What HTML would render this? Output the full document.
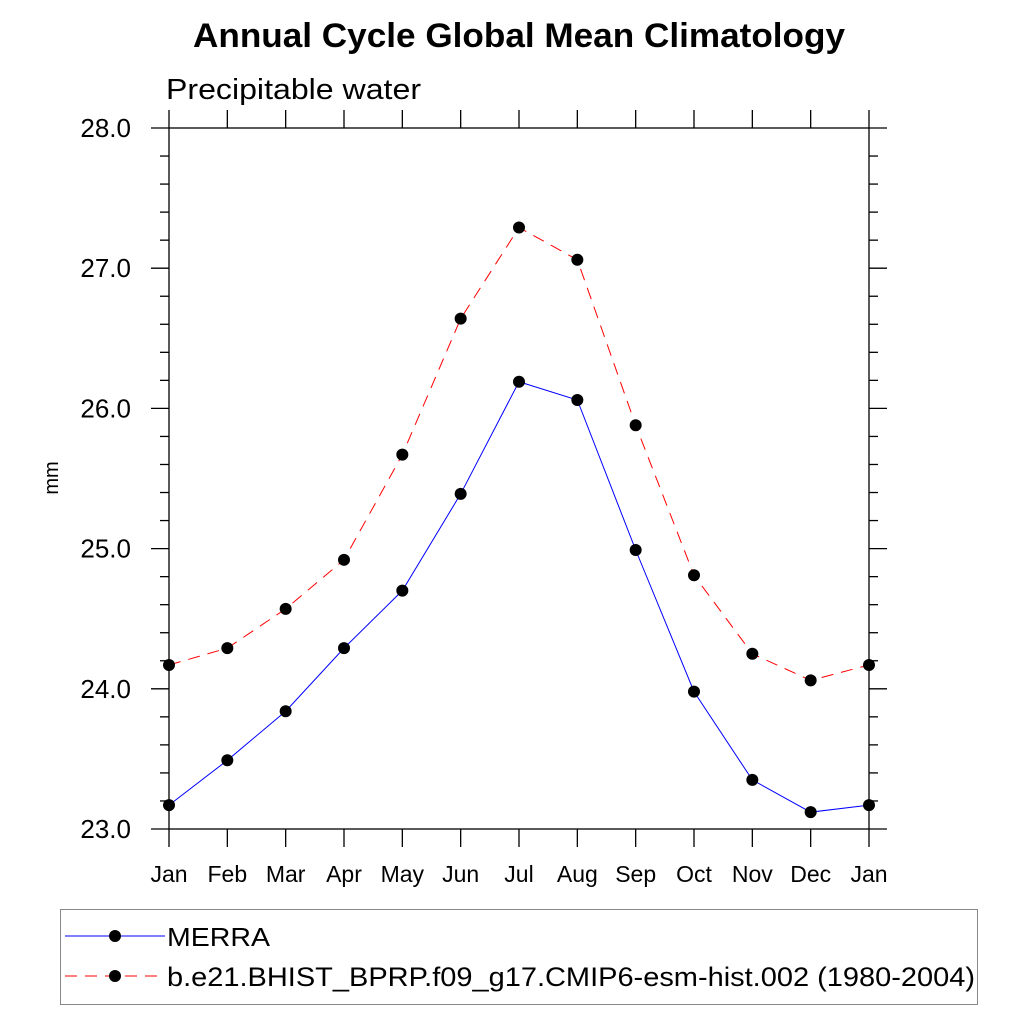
<!DOCTYPE html>
<html><head><meta charset="utf-8"><style>body{margin:0;background:#fff}svg{display:block}</style></head>
<body>
<svg id="chart" width="1024" height="1024" viewBox="0 0 1024 1024" xmlns="http://www.w3.org/2000/svg" font-family="Liberation Sans, sans-serif">
<rect width="1024" height="1024" fill="#fff"/>
<text x="193" y="47" textLength="652" lengthAdjust="spacingAndGlyphs" font-size="34" font-weight="bold">Annual Cycle Global Mean Climatology</text>
<text x="166" y="99" textLength="255" lengthAdjust="spacingAndGlyphs" font-size="29">Precipitable water</text>
<text transform="translate(58,478) rotate(-90)" text-anchor="middle" font-size="20">mm</text>
<g id="axes"></g>
<g id="series"></g>
<g>
<rect x="60.5" y="909.5" width="917" height="95" fill="none" stroke="#888" stroke-width="1"/>
<line x1="65" y1="936" x2="165" y2="936" stroke="#0000ff" stroke-width="1"/>
<circle cx="115" cy="936" r="6" fill="#000"/>
<text x="167" y="946" textLength="103" lengthAdjust="spacingAndGlyphs" font-size="26">MERRA</text>
<line x1="65" y1="976" x2="165" y2="976" stroke="#ff0000" stroke-width="1" stroke-dasharray="12,8"/>
<circle cx="115" cy="976" r="6" fill="#000"/>
<text x="167" y="986" textLength="808" lengthAdjust="spacingAndGlyphs" font-size="27">b.e21.BHIST_BPRP.f09_g17.CMIP6-esm-hist.002 (1980-2004)</text>
</g>
</svg>
<script>
const months = ["Jan","Feb","Mar","Apr","May","Jun","Jul","Aug","Sep","Oct","Nov","Dec","Jan"];
const merra = [23.17,23.49,23.84,24.29,24.70,25.39,26.19,26.06,24.99,23.98,23.35,23.12,23.17];
const model = [24.17,24.29,24.57,24.92,25.67,26.64,27.29,27.06,25.88,24.81,24.25,24.06,24.17];
const yTicks = [23.0,24.0,25.0,26.0,27.0,28.0];
const yMin = 23, yMax = 28;
const L=169,R=869,T=128,B=829;
const NS="http://www.w3.org/2000/svg";
function xs(i){return L+(R-L)*i/(months.length-1);}
function ys(v){return B-(B-T)*(v-yMin)/(yMax-yMin);}
function mk(tag,attrs,parent){const e=document.createElementNS(NS,tag);for(const k in attrs)e.setAttribute(k,attrs[k]);parent.appendChild(e);return e;}
const ax=document.getElementById('axes');
const fr=mk('rect',{x:L,y:T,width:R-L,height:B-T,fill:'none',stroke:'#000','stroke-width':1.3},ax);


months.forEach((m,i)=>{
  const x=xs(i);
  mk('line',{x1:x,y1:B,x2:x,y2:B+18,stroke:'#000','stroke-width':1.3},ax);
  mk('line',{x1:x,y1:T,x2:x,y2:T-18,stroke:'#000','stroke-width':1.3},ax);
  const t=mk('text',{x:x,y:B+53,'text-anchor':'middle','font-size':23},ax);
  t.textContent=m;
  
  
});
for(let v=yMin;v<=yMax+1e-9;v+=0.2){
  const y=ys(v);const major=Math.abs(v-Math.round(v))<1e-6;const len=major?18:9;
  mk('line',{x1:L,y1:y,x2:L-len,y2:y,stroke:'#000','stroke-width':1.3},ax);
  mk('line',{x1:R,y1:y,x2:R+len,y2:y,stroke:'#000','stroke-width':1.3},ax);
}
yTicks.forEach(v=>{
  const t=mk('text',{x:131,y:ys(v)+9,'text-anchor':'end','font-size':26},ax);
  t.textContent=v.toFixed(1);
  
  
});
const sg=document.getElementById('series');
function draw(vals,color,dash,name){
  const p=mk('polyline',{points:vals.map((v,i)=>xs(i)+','+ys(v)).join(' '),fill:'none',stroke:color,'stroke-width':1,'stroke-dasharray':dash},sg);
  
  
  vals.forEach((v,i)=>{
    const c=mk('circle',{cx:xs(i),cy:ys(v),r:6,fill:'#000'},sg);
    
    
  });
}
draw(model,'#ff0000','12,8','model');
draw(merra,'#0000ff','none','merra');
</script>
</body></html>
